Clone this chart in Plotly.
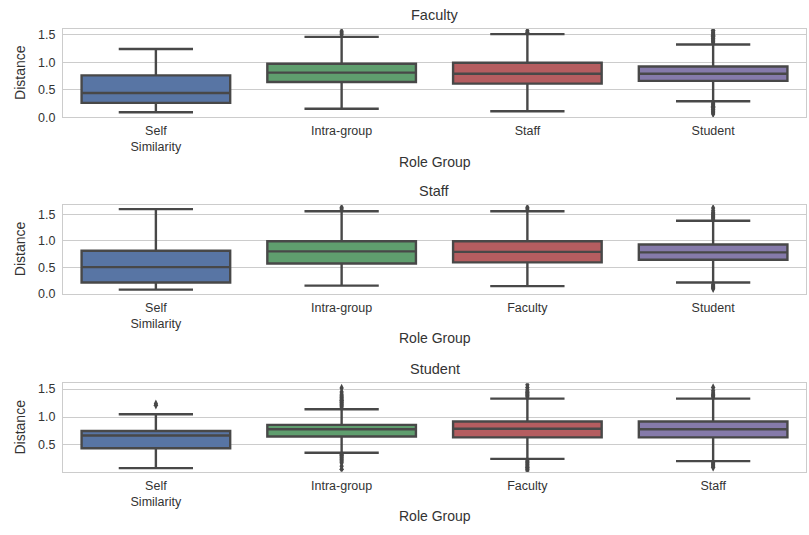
import plotly.graph_objects as go

# ---- data -------------------------------------------------------------
panel_titles = ["Faculty", "Staff", "Student"]

faculty_groups = ["Self<br>Similarity", "Intra-group", "Staff", "Student"]
faculty_lower = [0.09, 0.155, 0.11, 0.29]
faculty_q1 = [0.26, 0.64, 0.61, 0.66]
faculty_median = [0.44, 0.81, 0.79, 0.79]
faculty_q3 = [0.76, 0.97, 0.99, 0.92]
faculty_upper = [1.24, 1.46, 1.51, 1.32]
faculty_outliers = [
    [],
    [1.50, 1.53, 1.56],
    [1.54, 1.57],
    [0.06, 0.08, 0.10, 0.12, 0.14, 0.16, 0.18, 0.20, 0.22, 0.24, 0.26,
     1.35, 1.37, 1.39, 1.41, 1.43, 1.45, 1.47, 1.49, 1.51, 1.53, 1.55, 1.58],
]

staff_groups = ["Self<br>Similarity", "Intra-group", "Faculty", "Student"]
staff_lower = [0.075, 0.15, 0.14, 0.21]
staff_q1 = [0.21, 0.57, 0.59, 0.64]
staff_median = [0.50, 0.80, 0.79, 0.78]
staff_q3 = [0.81, 0.99, 0.99, 0.93]
staff_upper = [1.60, 1.56, 1.56, 1.38]
staff_outliers = [
    [],
    [1.60, 1.63],
    [1.60, 1.63],
    [0.09, 0.11, 0.13, 0.15, 0.17,
     1.41, 1.43, 1.45, 1.47, 1.49, 1.51, 1.53, 1.57, 1.62],
]

student_groups = ["Self<br>Similarity", "Intra-group", "Faculty", "Staff"]
student_lower = [0.085, 0.36, 0.25, 0.21]
student_q1 = [0.44, 0.65, 0.635, 0.635]
student_median = [0.67, 0.78, 0.79, 0.78]
student_q3 = [0.75, 0.86, 0.92, 0.92]
student_upper = [1.05, 1.14, 1.33, 1.33]
student_outliers = [
    [1.21, 1.24],
    [0.065, 0.12, 0.18, 0.21, 0.23, 0.25, 0.27, 0.29, 0.31, 0.33,
     1.18, 1.20, 1.22, 1.24, 1.26, 1.28, 1.30, 1.32, 1.34, 1.36, 1.38, 1.41, 1.45, 1.52],
    [0.035, 0.06, 0.08, 0.10, 0.12, 0.14, 0.16, 0.18, 0.20, 0.22,
     1.36, 1.38, 1.40, 1.42, 1.44, 1.46, 1.49, 1.53, 1.58],
    [0.095, 0.12, 0.14, 0.16, 0.18,
     1.36, 1.38, 1.40, 1.43, 1.47, 1.53],
]

y_ranges = [[0.0, 1.61], [0.0, 1.68], [0.018, 1.606]]

# ---- style ------------------------------------------------------------
box_colors = ["#5875A4", "#5F9E6E", "#B55D60", "#857AAA"]
edge = "rgb(72,72,72)"
grid = "#cccccc"
text = "#333333"
FONT = "Liberation Sans, Arial, sans-serif"

W, H = 809, 535
x_left, x_right = 63, 806
panel_px = [(28, 118), (207, 297), (388, 478)]   # top, bottom in pixels

panels = [
    (faculty_groups, faculty_lower, faculty_q1, faculty_median, faculty_q3, faculty_upper, faculty_outliers),
    (staff_groups, staff_lower, staff_q1, staff_median, staff_q3, staff_upper, staff_outliers),
    (student_groups, student_lower, student_q1, student_median, student_q3, student_upper, student_outliers),
]

fig = go.Figure()
layout = {}
annotations = []

for p, (groups, lo, q1, med, q3, up, outl) in enumerate(panels):
    sfx = "" if p == 0 else str(p + 1)
    xa, ya = "x" + sfx, "y" + sfx
    for i, g in enumerate(groups):
        fig.add_trace(go.Box(
            x=[g], q1=[q1[i]], median=[med[i]], q3=[q3[i]],
            lowerfence=[lo[i]], upperfence=[up[i]],
            width=0.8, whiskerwidth=0.5,
            fillcolor=box_colors[i],
            line=dict(color=edge, width=2.4),
            boxpoints=False, showlegend=False,
            xaxis=xa, yaxis=ya,
        ))
        if outl[i]:
            fig.add_trace(go.Scatter(
                x=[g] * len(outl[i]), y=outl[i], mode="markers",
                marker=dict(symbol="diamond-tall", size=6, color=edge,
                            line=dict(width=0)),
                showlegend=False, xaxis=xa, yaxis=ya,
            ))

    top, bot = panel_px[p]
    dom_y = [1 - bot / H, 1 - top / H]
    layout["xaxis" + sfx] = dict(
        domain=[x_left / W, x_right / W], anchor=ya,
        type="category", categoryorder="array", categoryarray=groups,
        range=[-0.5, 3.5], showgrid=False, zeroline=False,
        showline=True, mirror=True, linecolor=grid, linewidth=1,
        ticks="", ticklabelstandoff=2,
        tickfont=dict(family=FONT, size=12.5, color=text),
    )
    layout["yaxis" + sfx] = dict(
        domain=dom_y, anchor=xa, range=y_ranges[p],
        dtick=0.5, tick0=0, tickformat=".1f",
        showgrid=True, gridcolor=grid, gridwidth=1, zeroline=False,
        showline=True, mirror=True, linecolor=grid, linewidth=1,
        ticks="", ticklabelstandoff=4,
        tickfont=dict(family=FONT, size=12.5, color=text),
    )
    cx = (x_left + x_right) / 2 / W
    common = dict(xref="paper", yref="paper", showarrow=False,
                  xanchor="center", yanchor="middle")
    annotations.append(dict(text=panel_titles[p], x=cx, y=1 - (top - 14) / H,
                            font=dict(family=FONT, size=14.5, color=text), **common))
    annotations.append(dict(text="Role Group", x=cx, y=1 - (bot + 45) / H,
                            font=dict(family=FONT, size=14, color=text), **common))
    annotations.append(dict(text="Distance", x=20 / W, y=1 - (top + bot) / 2 / H,
                            textangle=-90,
                            font=dict(family=FONT, size=14, color=text), **common))

fig.update_layout(
    width=W, height=H,
    margin=dict(l=0, r=0, t=0, b=0),
    paper_bgcolor="white", plot_bgcolor="white",
    boxmode="overlay",
    annotations=annotations,
    **layout,
)

fig.write_html("out.html")
